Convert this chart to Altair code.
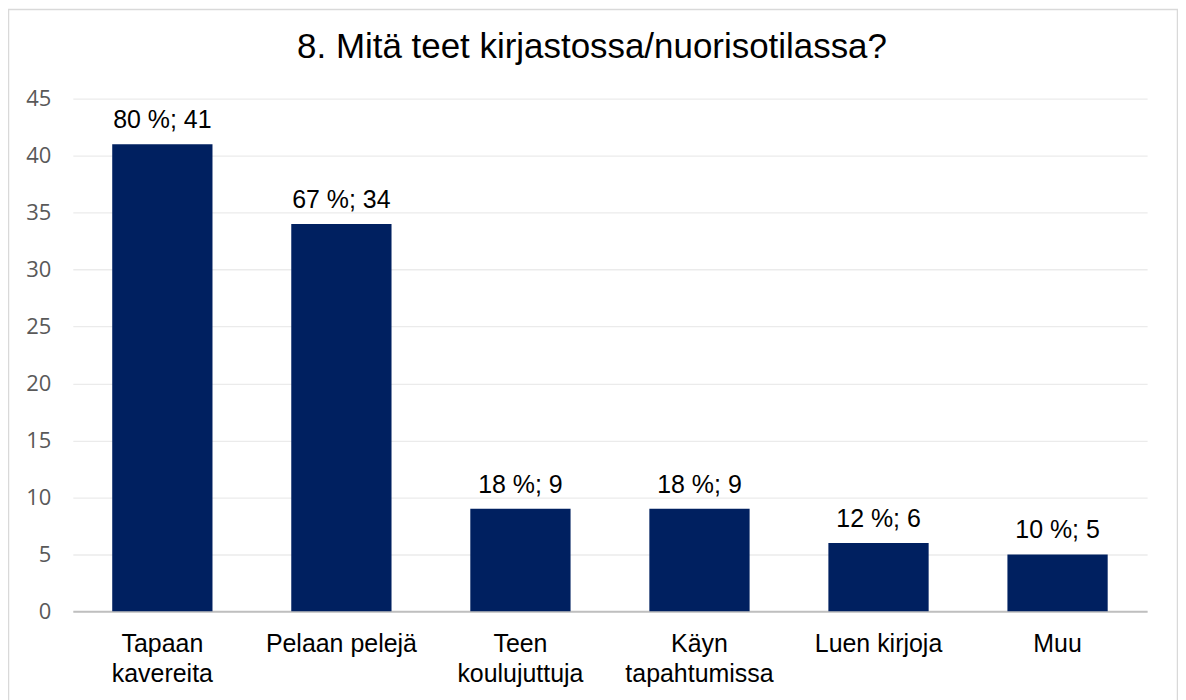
import altair as alt
import pandas as pd

categories = ["Tapaan kavereita", "Pelaan pelejä", "Teen koulujuttuja",
              "Käyn tapahtumissa", "Luen kirjoja", "Muu"]
counts = [41, 34, 9, 9, 6, 5]
percents = [80, 67, 18, 18, 12, 10]
y_ticks = [0, 5, 10, 15, 20, 25, 30, 35, 40, 45]
line_breaks = {
    "Tapaan kavereita": ["Tapaan", "kavereita"],
    "Teen koulujuttuja": ["Teen", "koulujuttuja"],
    "Käyn tapahtumissa": ["Käyn", "tapahtumissa"],
}

df = pd.DataFrame({
    "cat": categories,
    "n": counts,
    "label": [f"{p} %; {c}" for p, c in zip(percents, counts)],
})

expr = "datum.label"
for k, v in line_breaks.items():
    expr = f"datum.label == '{k}' ? {v} : ({expr})"

W, H = 1077, 514
PAD_L, PAD_T = 65, 90

x = alt.X("cat:N", sort=categories, title=None,
          scale=alt.Scale(paddingInner=0.44, paddingOuter=0.22),
          axis=alt.Axis(labelAngle=0, ticks=False, domainColor="#bfbfbf",
                        domainWidth=2, labelFont="Liberation Sans",
                        labelFontSize=25, labelColor="#000000",
                        labelPadding=20, labelLineHeight=30,
                        labelExpr=expr, grid=False))
y = alt.Y("n:Q", title=None,
          scale=alt.Scale(domain=[0, 45], nice=False),
          axis=alt.Axis(values=y_ticks, ticks=False, domain=False,
                        gridColor="#ebebeb", gridWidth=1.3,
                        labelFont="Open Sans", labelFontSize=22,
                        labelColor="#595959", labelPadding=22))

bars = alt.Chart(df).mark_bar(color="#002060").encode(x=x, y=y)
text = alt.Chart(df).mark_text(baseline="alphabetic", dy=-16,
                               font="Liberation Sans", fontSize=25,
                               color="#000000").encode(
    x=alt.X("cat:N", sort=categories), y="n:Q", text="label:N")

border = alt.Chart(df.head(1)).mark_rect(
    fill=None, stroke="#d9d9d9", strokeWidth=1.5, clip=False).encode(
    x=alt.value(-64.5), x2=alt.value(1107.5),
    y=alt.value(-89.5), y2=alt.value(700))

chart = alt.layer(border, bars, text).properties(
    width=W, height=H,
    title=alt.Title("8. Mitä teet kirjastossa/nuorisotilassa?",
                    font="Liberation Sans", fontSize=35, fontWeight="normal",
                    color="#000000", anchor="middle", dx=-18,
                    baseline="alphabetic", offset=-84),
    autosize=alt.AutoSizeParams(type="none"),
    padding={"left": PAD_L, "top": PAD_T, "right": 31, "bottom": 110},
).configure(background="white", view=alt.ViewConfig(strokeWidth=0, stroke="transparent"))

chart.save("out.html", embed_options={"renderer": "svg", "actions": False})
